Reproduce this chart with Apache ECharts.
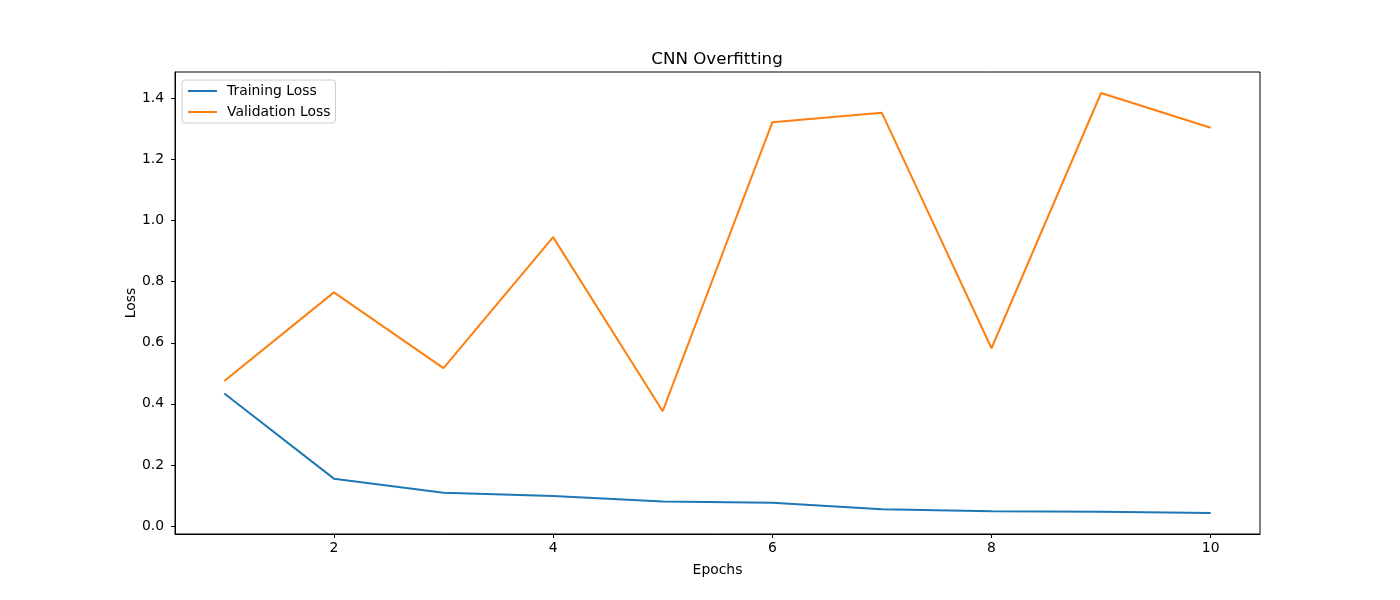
<!DOCTYPE html>
<html>
<head>
<meta charset="utf-8">
<script src="https://cdn.jsdelivr.net/npm/echarts@6/dist/echarts.min.js"></script>
<style>
  html, body { margin: 0; padding: 0; background: #fff; }
  #main { width: 1400px; height: 600px; }
</style>
</head>
<body>
<div id="main"></div>
<script>
var epochs = [1, 2, 3, 4, 5, 6, 7, 8, 9, 10];
var trainingLoss = [0.434, 0.155, 0.109, 0.098, 0.080, 0.076, 0.0545, 0.048, 0.047, 0.0425];
var validationLoss = [0.475, 0.765, 0.517, 0.946, 0.376, 1.322, 1.353, 0.582, 1.418, 1.304];
var xTicks = [2, 4, 6, 8, 10];
var yTicks = [0.0, 0.2, 0.4, 0.6, 0.8, 1.0, 1.2, 1.4];

var font = 'DejaVu Sans';

function pairs(xs, ys) {
    var out = [];
    for (var i = 0; i < xs.length; i++) {
        out.push([xs[i], ys[i]]);
    }
    return out;
}

// matplotlib-like 5% margins
var allY = trainingLoss.concat(validationLoss);
var yMin = Math.min.apply(null, allY);
var yMax = Math.max.apply(null, allY);
var yPad = (yMax - yMin) * 0.05;
var xPad = (epochs[epochs.length - 1] - epochs[0]) * 0.05;

var option = {
    animation: false,
    backgroundColor: '#fff',
    title: {
        text: 'CNN Overfitting',
        left: 712,
        top: 46,
        textAlign: 'center',
        textStyle: { fontFamily: font, fontSize: 16.7, fontWeight: 'normal', color: '#000' }
    },
    legend: {
        orient: 'vertical',
        left: 182,
        top: 80,
        itemWidth: 29,
        itemHeight: 14,
        itemGap: 7,
        padding: [4, 5, 4, 5],
        borderColor: '#cccccc',
        borderWidth: 1,
        borderRadius: 3,
        backgroundColor: 'rgba(255,255,255,0.8)',
        itemStyle: { opacity: 0 },
        textStyle: { fontFamily: font, fontSize: 13.9, color: '#000', padding: [0, 0, 0, 5] },
        data: ['Training Loss', 'Validation Loss']
    },
    grid: {
        left: 175,
        right: 140,
        top: 72,
        bottom: 66,
        show: true,
        borderColor: '#000',
        borderWidth: 1
    },
    xAxis: {
        type: 'value',
        min: epochs[0] - xPad,
        max: epochs[epochs.length - 1] + xPad,
        name: 'Epochs',
        nameLocation: 'middle',
        nameGap: 29,
        nameMoveOverlap: false,
        nameTextStyle: { fontFamily: font, fontSize: 13.9, color: '#000' },
        axisLine: { show: true, onZero: false, lineStyle: { color: '#000', width: 1 } },
        axisTick: { show: true, length: 4, lineStyle: { color: '#000' }, customValues: xTicks },
        axisLabel: { fontFamily: font, fontSize: 13.9, color: '#000', margin: 7, customValues: xTicks },
        splitLine: { show: false }
    },
    yAxis: {
        type: 'value',
        min: yMin - yPad,
        max: yMax + yPad,
        name: 'Loss',
        nameLocation: 'middle',
        nameGap: 37,
        nameMoveOverlap: false,
        nameTextStyle: { fontFamily: font, fontSize: 13.9, color: '#000' },
        axisLine: { show: true, onZero: false, lineStyle: { color: '#000', width: 1 } },
        axisTick: { show: true, length: 4, lineStyle: { color: '#000' }, customValues: yTicks },
        axisLabel: {
            fontFamily: font, fontSize: 13.9, color: '#000', margin: 11, customValues: yTicks,
            formatter: function (v) { return v.toFixed(1); }
        },
        splitLine: { show: false }
    },
    series: [
        {
            name: 'Training Loss',
            type: 'line',
            symbol: 'none',
            color: '#1f77b4',
            lineStyle: { width: 2, color: '#1f77b4' },
            data: pairs(epochs, trainingLoss)
        },
        {
            name: 'Validation Loss',
            type: 'line',
            symbol: 'none',
            color: '#ff7f0e',
            lineStyle: { width: 2, color: '#ff7f0e' },
            data: pairs(epochs, validationLoss)
        }
    ]
};

var chart = echarts.init(document.getElementById('main'));
chart.setOption(option);
</script>
</body>
</html>
